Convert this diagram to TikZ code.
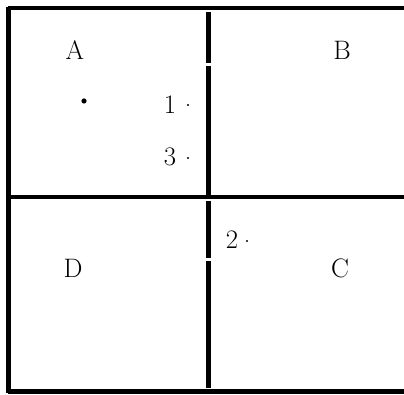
\documentclass[tikz,border=0pt]{standalone}
\begin{document}
\begin{tikzpicture}[every node/.style={font=\fontsize{19}{22}\selectfont},
  wall/.style={line width=3pt,black},
  spot/.style={black}]
\useasboundingbox (0,0) rectangle (10.1,9.875);
% outer frame (open on the right)
\draw[wall] (0.2125,9.7)--(0.2125,0.05);
\draw[wall] (0.2,9.675)--(10.1,9.675);
\draw[wall] (0.2,0.0875)--(10.1,0.0875);
% cross
\draw[wall,line width=3.4pt] (0.25,4.95)--(10.1,4.95);
\draw[wall] (5.2125,9.575)--(5.2125,8.3);
\draw[wall] (5.2125,8.22)--(5.2125,5.0);
\draw[wall] (5.2125,4.85)--(5.2125,3.43);
\draw[wall] (5.2125,3.35)--(5.2125,0.175);
% quarters
\node (qa) at (1.875,8.625) {A};
\node (qb) at (8.55,8.625) {B};
\node (qc) at (8.5,3.175) {C};
\node (qd) at (1.825,3.175) {D};
% points
\fill[spot] (2.1,7.35) circle (0.065);
\node (p1) at (4.25,7.25) {1};
\fill[spot] (4.7,7.25) circle (0.03);
\node (p3) at (4.25,5.95) {3};
\fill[spot] (4.7,5.925) circle (0.03);
\node (p2) at (5.8,3.875) {2};
\fill[spot] (6.175,3.85) circle (0.03);
\end{tikzpicture}
\end{document}
